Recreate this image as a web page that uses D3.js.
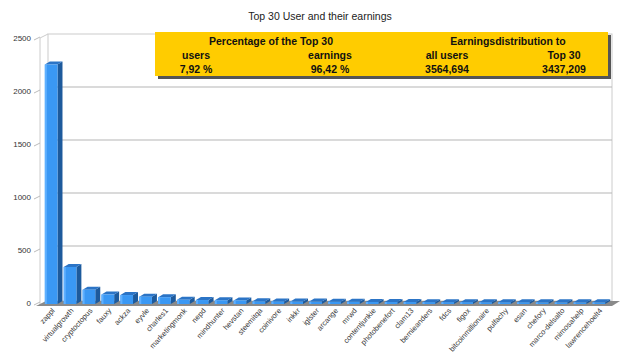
<!DOCTYPE html>
<html><head><meta charset="utf-8">
<script src="https://cdn.jsdelivr.net/npm/d3@7"></script>
<style>body{margin:0;background:#fff}svg{display:block}</style>
</head><body><svg id="c" width="640" height="360"></svg>
<script>
const users = ["zappl","virtualgrowth","cryptoctopus","fauxy","ackza","eyvle","charles1","marketingmonk","nepd","mindhunter","hevstan","steemitqa","coinivore","inkkr","iglster","arcange","mrwd","contentjunkie","photobenefort","clam13","bernieanders","fdcs","figox","bitcoinmillionaire","pulfachy","esan","chefory","marco-delsalto","mimosahelp","lawrencehoelt4"];
const earnings = [2250,340,125,80,75,60,55,30,28,26,24,16,15,14,13,12,12,10,9,9,8,8,8,7,7,7,6,6,6,6];
const yTicks = [0,500,1000,1500,2000,2500];
const boxHead = ["Percentage of the Top 30","Earningsdistribution to"];
const boxCols = ["users","earnings","all users","Top 30"];
const boxVals = ["7,92 %","96,42 %","3564,694","3437,209"];

const svg = d3.select("#c");
const F = "Arial, 'Liberation Sans', sans-serif";
const x = d3.scaleBand().domain(users).range([42, 608]).paddingInner(0.33).paddingOuter(0.15);
const y = d3.scaleLinear().domain([0, 2500]).range([303, 38]);
const dx = 5, dy = -3;

svg.append("text").attr("x", 320).attr("y", 20).attr("text-anchor", "middle")
  .attr("font-family", F).attr("font-size", 10.5).attr("fill", "#222").text("Top 30 User and their earnings");

// back wall
svg.append("rect").attr("x", 48).attr("y", y(2500)-4).attr("width", 564).attr("height", y(0)-y(2500)+2)
  .attr("fill", "#fff").attr("stroke", "#ccc");
svg.append("path").attr("d", `M48,${y(2500)-4} L40,${y(2500)} L40,${y(0)+2}`).attr("fill","none").attr("stroke","#ccc");
svg.selectAll("line.g").data(yTicks.slice(1,5)).join("line")
  .attr("x1", 48).attr("x2", 612).attr("y1", d => y(d)-4).attr("y2", d => y(d)-4)
  .attr("stroke", "#b5b5b5").attr("stroke-width", 1.2);
svg.selectAll("text.yt").data(yTicks).join("text")
  .attr("x", 31).attr("y", d => y(d)+3).attr("text-anchor", "end")
  .attr("font-family", F).attr("font-size", 8).attr("fill", "#333").text(d => d);
svg.selectAll("line.tk").data(yTicks).join("line")
  .attr("x1", 34).attr("x2", 40).attr("y1", d => y(d)+2).attr("y2", d => y(d)-1).attr("stroke", "#bbb");
// floor
svg.append("path").attr("d", `M36,${y(0)+3} L612,${y(0)+3} L620,${y(0)-2} L46,${y(0)-2} Z`).attr("fill", "#8a8a8a");

const g = svg.append("g");
users.forEach((u, i) => {
  const bx = x(u), bw = x.bandwidth(), top = y(earnings[i]), bot = y(0)+1;
  g.append("path").attr("d", `M${bx+bw},${bot} L${bx+bw+dx},${bot+dy} L${bx+bw+dx},${top+dy} L${bx+bw},${top} Z`).attr("fill", "#1d5a9c");
  g.append("path").attr("d", `M${bx},${top} L${bx+dx},${top+dy} L${bx+bw+dx},${top+dy} L${bx+bw},${top} Z`).attr("fill", "#2b74c6");
  g.append("rect").attr("x", bx).attr("y", top).attr("width", bw).attr("height", bot-top).attr("fill", "#3a98f4");
  g.append("rect").attr("x", bx).attr("y", top).attr("width", 2).attr("height", bot-top).attr("fill", "#5fb0ff");
});

svg.selectAll("text.xl").data(users).join("text")
  .attr("transform", d => `translate(${x(d)+x.bandwidth()/2+4},${311}) rotate(-48)`)
  .attr("text-anchor", "end").attr("font-family", F).attr("font-size", 7.5).attr("fill", "#333").text(d => d);

svg.append("rect").attr("x", 158).attr("y", 35).attr("width", 453).attr("height", 44).attr("fill", "#555");
svg.append("rect").attr("x", 155).attr("y", 32).attr("width", 453).attr("height", 44).attr("fill", "#ffcc00");
const bt = (tx, ty, t) => svg.append("text").attr("x", tx).attr("y", ty).attr("text-anchor", "middle")
  .attr("font-family", F).attr("font-size", 10.5).attr("font-weight", "bold").attr("fill", "#111").text(t);
bt(271, 45, boxHead[0]); bt(508, 45, boxHead[1]);
const cx = [196, 330, 447, 564];
boxCols.forEach((t, i) => bt(cx[i], 59, t));
boxVals.forEach((t, i) => bt(cx[i], 73, t));
</script></body></html>
